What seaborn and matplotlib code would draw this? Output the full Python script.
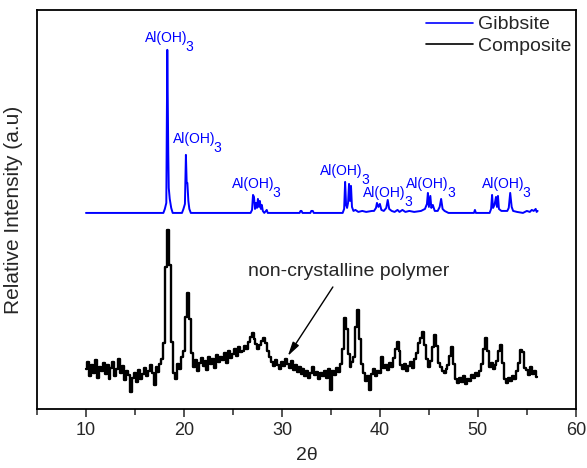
import numpy as np
import pandas as pd
import matplotlib
matplotlib.use("Agg")
import matplotlib.pyplot as plt
import matplotlib.ticker as mticker
import seaborn as sns

# --- data (arbitrary intensity units) ---
gib_2theta = [
    10.0, 17.9, 18.05, 18.2, 18.3, 18.4, 18.45, 18.55, 18.7, 18.85,
    19.8, 19.95, 20.1, 20.2, 20.28, 20.35, 20.45, 20.55, 20.7,
    26.8, 26.95, 27.05, 27.15, 27.25, 27.35, 27.45, 27.55, 27.65, 27.75,
    27.85, 27.95, 28.05, 28.2, 28.45, 28.55,
    31.8, 31.9, 32.0, 32.1, 32.9, 33.0, 33.15, 33.25,
    36.2, 36.35, 36.45, 36.55, 36.65, 36.75, 36.85, 36.95, 37.05, 37.15,
    37.3, 37.5, 37.8, 38.2, 38.6, 39.2,
    39.4, 39.6, 39.7, 39.85, 40.0, 40.15, 40.4, 40.65, 40.8, 40.95,
    41.2, 41.5, 41.8, 42.0, 42.3, 42.6, 43.0, 43.5, 44.2,
    44.6, 44.8, 44.9, 45.0, 45.15, 45.25, 45.4, 45.6, 45.9, 46.1,
    46.25, 46.4, 46.6, 47.0, 49.6, 49.7, 49.8,
    51.2, 51.35, 51.45, 51.55, 51.7, 51.85, 51.95, 52.05, 52.15, 52.4,
    53.0, 53.15, 53.3, 53.45, 53.6, 54.0, 54.6, 55.0, 55.3, 55.5,
    55.7, 55.9, 56.0, 56.1,
]
gib_intensity = [
    0, 0, 4, 10, 163, 60, 25, 14, 5, 0,
    0, 4, 9, 58, 30, 30, 12, 4, 0,
    0, 3, 18, 16, 4, 10, 5, 14, 6, 12,
    4, 8, 2, 0, 3, 0,
    0, 2, 2, 0, 0, 2, 2, 0,
    0, 4, 31, 8, 5, 10, 29, 12, 27, 6,
    2, 3, 1, 2, 1, 2,
    2, 5, 10, 6, 9, 3, 2, 5, 13, 4,
    2, 1, 3, 1, 3, 1, 2, 1, 2,
    4, 9, 20, 6, 17, 5, 8, 2, 2, 6,
    14, 4, 2, 0, 0, 3, 0,
    0, 4, 18, 5, 8, 16, 6, 17, 4, 2,
    2, 5, 20, 6, 2, 1, 0, 2, 1, 3,
    2, 4, 1, 2,
]

# composite: one value every 0.2 deg from 10.0 to 56.0
comp_intensity = [
    40, 47, 33, 44, 36, 49, 31, 42, 38, 46,     # 10.0 - 11.8
    35, 44, 30, 41, 47, 33, 40, 50, 36, 43,     # 12.0 - 13.8
    29, 38, 34, 17, 31, 36, 27, 39, 30, 35,     # 14.0 - 15.8
    41, 33, 38, 44, 36, 24, 42, 37, 45, 50,     # 16.0 - 17.8
    66, 142, 179, 144, 67, 36, 30, 45, 40, 52,  # 18.0 - 19.8
    58, 92, 116, 90, 56, 42, 49, 38, 46, 51,    # 20.0 - 21.8
    43, 48, 39, 52, 45, 50, 41, 54, 47, 52,     # 22.0 - 23.8
    49, 56, 46, 58, 51, 55, 60, 53, 62, 57,     # 24.0 - 25.8
    58, 63, 60, 67, 72, 76, 70, 65, 60, 64,     # 26.0 - 27.8
    68, 71, 66, 58, 52, 47, 43, 49, 44, 40,     # 28.0 - 29.8
    47, 43, 50, 45, 41, 48, 39, 44, 37, 42,     # 30.0 - 31.8
    35, 40, 33, 38, 31, 36, 42, 34, 37, 30,     # 32.0 - 33.8
    36, 33, 38, 31, 40, 19, 38, 34, 41, 37,     # 34.0 - 35.8
    45, 60, 91, 80, 55, 42, 47, 52, 82, 99,     # 36.0 - 37.8
    70, 45, 36, 28, 33, 19, 35, 40, 33, 38,     # 38.0 - 39.8
    36, 52, 41, 44, 39, 46, 42, 51, 60, 67,     # 40.0 - 41.8
    58, 44, 40, 45, 38, 43, 47, 41, 50, 56,     # 42.0 - 43.8
    66, 71, 77, 64, 50, 42, 48, 62, 74, 63,     # 44.0 - 45.8
    46, 42, 38, 36, 40, 44, 53, 62, 45, 30,     # 46.0 - 47.8
    26, 31, 27, 33, 25, 30, 28, 34, 31, 36,     # 48.0 - 49.8
    33, 38, 45, 60, 71, 58, 42, 46, 40, 44,     # 50.0 - 51.8
    48, 58, 64, 46, 30, 26, 31, 28, 33, 30,     # 52.0 - 53.8
    38, 46, 59, 57, 41, 39, 34, 42, 35, 38,     # 54.0 - 55.8
    32,                                         # 56.0
]
comp_start, comp_end = 10.0, 56.0

# peak labels: left edge (2theta) and baseline height
label_2theta = [16.0, 18.85, 24.87, 33.9, 38.3, 42.7, 50.4]
label_height = [367, 266, 221, 234, 212, 221, 221]

GIBBSITE_OFFSET = 196
BLUE = "#0000FF"

sns.set_theme(style="ticks")
plt.rcParams["font.family"] = ["Liberation Sans", "DejaVu Sans"]

gib = pd.DataFrame({"two_theta": gib_2theta,
                    "intensity": np.array(gib_intensity) + GIBBSITE_OFFSET})
comp = pd.DataFrame({"two_theta": np.linspace(comp_start, comp_end, len(comp_intensity)),
                     "intensity": comp_intensity})

fig = plt.figure(figsize=(5.87, 4.68), dpi=100)
ax = fig.add_axes([0.063, 0.126, 0.918, 0.853])

sns.lineplot(data=gib, x="two_theta", y="intensity", color=BLUE, lw=1.4,
             estimator=None, sort=False, label="Gibbsite", ax=ax)
sns.lineplot(data=comp, x="two_theta", y="intensity", color="black", lw=1.7,
             estimator=None, sort=False, drawstyle="steps-mid",
             label="Composite", ax=ax)

for x, y in zip(label_2theta, label_height):
    t = ax.text(x, y, "Al(OH)", color=BLUE, fontsize=10, ha="left", va="baseline")
    ax.annotate("3", xy=(1, 0), xycoords=t, xytext=(-1.0, -4.5),
                textcoords="offset points", color=BLUE, fontsize=10,
                ha="left", va="baseline")

ax.text(26.5, 137, "non-crystalline polymer", fontsize=14, ha="left", va="center")
ax.annotate("", xy=(30.6, 53), xytext=(35.2, 122),
            arrowprops=dict(arrowstyle="-|>,head_length=0.7,head_width=0.18",
                            color="black", lw=1.0, shrinkA=0, shrinkB=0))

ax.set_xlim(5, 60)
ax.set_ylim(0, 399)
ax.xaxis.set_major_locator(mticker.MultipleLocator(10))
ax.xaxis.set_minor_locator(mticker.MultipleLocator(5))
ax.tick_params(axis="x", which="major", direction="out", length=6, width=1.1,
               labelsize=13, pad=3)
ax.tick_params(axis="x", which="minor", direction="out", length=4, width=1.1)
ax.set_yticks([])
for side in ["top", "right", "bottom", "left"]:
    ax.spines[side].set_visible(True)
    ax.spines[side].set_color("black")
    ax.spines[side].set_linewidth(1.3)

ax.set_xlabel("2θ", fontsize=14, labelpad=6)
ax.set_ylabel("Relative Intensity (a.u)", fontsize=15, labelpad=10)

leg = ax.legend(loc="upper right", bbox_to_anchor=(0.995, 0.99), frameon=False,
                fontsize=14, handlelength=2.4, handletextpad=0.25, labelspacing=0.2,
                borderaxespad=0.0, borderpad=0.1)
for h in leg.get_lines():
    h.set_linewidth(1.2)

fig.savefig("out.png", dpi=100)
